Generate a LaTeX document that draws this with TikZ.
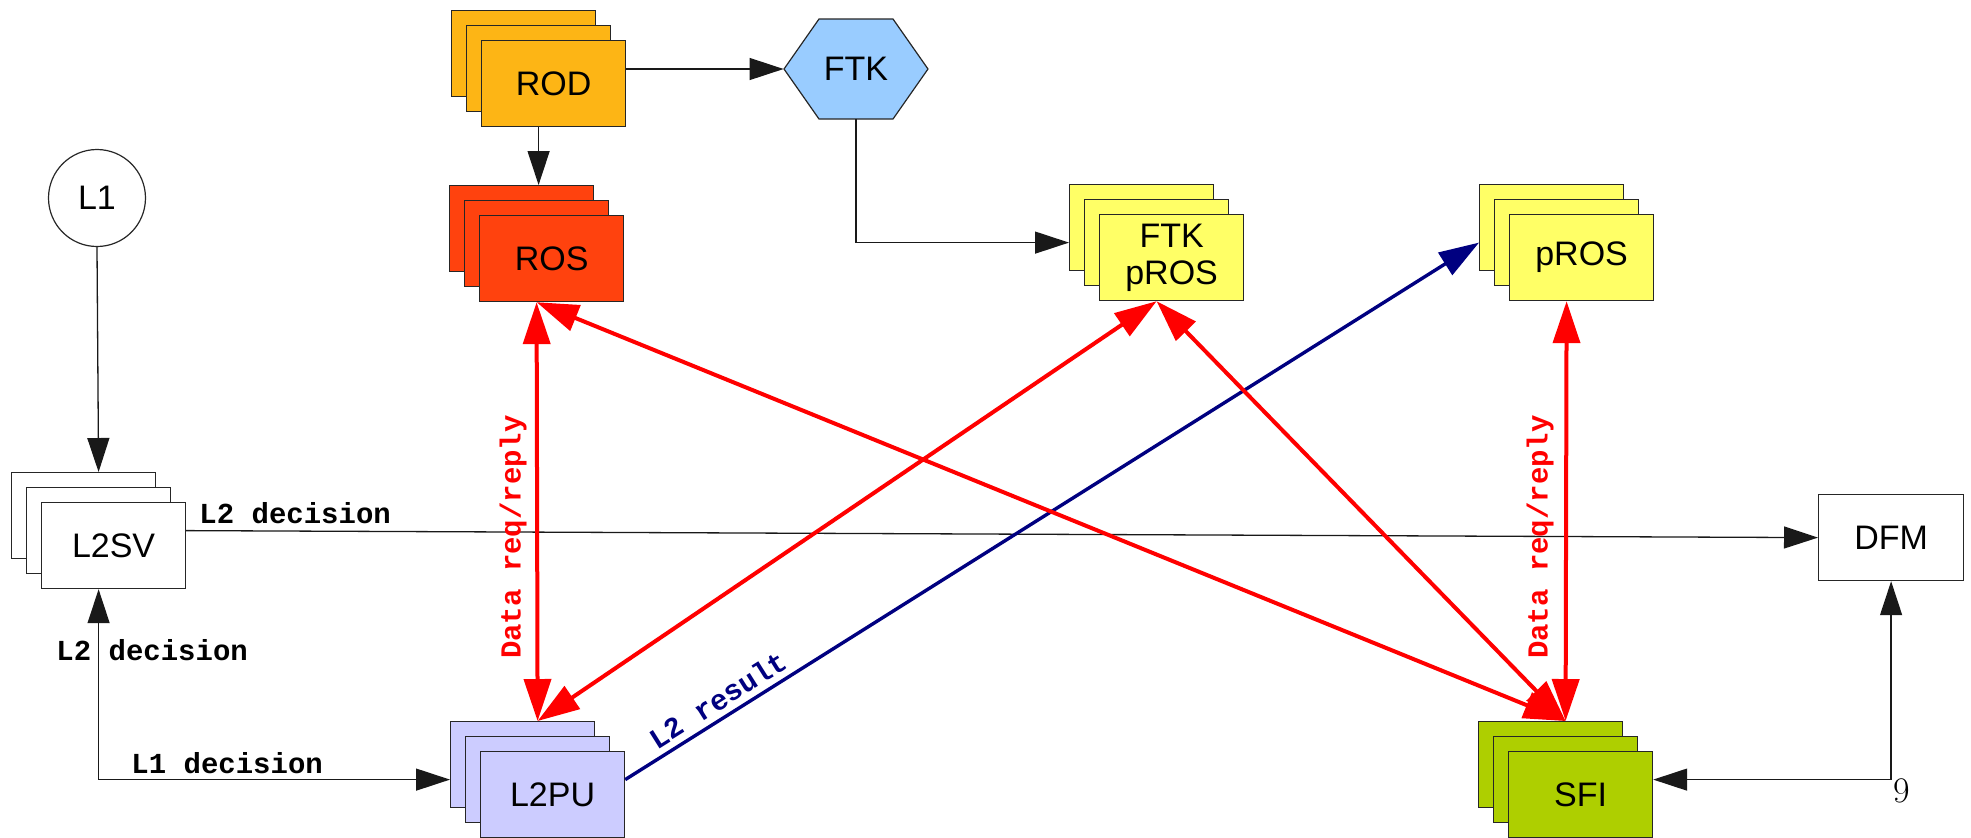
\documentclass[tikz,border=0pt]{standalone}
\usepackage{fontspec}
\setsansfont{Liberation Sans}
\setmonofont{Liberation Mono}
\usetikzlibrary{arrows.meta,calc}

\definecolor{rodfill}{HTML}{FDB515}
\definecolor{rosfill}{HTML}{FF420E}
\definecolor{ftkfill}{HTML}{99CCFF}
\definecolor{prosfill}{HTML}{FFFF66}
\definecolor{pufill}{HTML}{CCCCFF}
\definecolor{sfifill}{HTML}{AECF00}
\definecolor{resultblue}{HTML}{000080}

\tikzset{
  unitbox/.style={draw=black!85, line width=0.6pt, anchor=north west,
    minimum width=72pt, minimum height=43pt, inner sep=0pt,
    font=\sffamily\fontsize{17}{18.5}\selectfont, align=center},
  flow/.style={draw=black!90, line width=0.65pt, -{Triangle[length=17pt,width=11pt]}},
  flowboth/.style={draw=black!90, line width=0.65pt,
    {Triangle[length=17pt,width=11pt]}-{Triangle[length=17pt,width=11pt]}},
  datalink/.style={draw=red, line width=2pt,
    {Triangle[length=21pt,width=13.5pt]}-{Triangle[length=21pt,width=13.5pt]}},
  resultlink/.style={draw=resultblue, line width=1.7pt, -{Triangle[length=20pt,width=13pt]}},
  monolabel/.style={font=\ttfamily\bfseries\fontsize{14.5}{16}\selectfont, inner sep=0pt},
}

% three overlapping boxes: back (#1b), middle (#1m), front (#1)
\newcommand{\boxstack}[5]{%
  \node[unitbox, fill=#4] (#1b) at (#2,#3) {};
  \node[unitbox, fill=#4] (#1m) at (#2+15,#3+15) {};
  \node[unitbox, fill=#4] (#1) at (#2+30,#3+30) {#5};
}

\begin{document}
\begin{tikzpicture}[x=0.5pt,y=-0.5pt]
\useasboundingbox (0,0) rectangle (1971,837);

% units
\boxstack{rod}{451}{10}{rodfill}{ROD}
\boxstack{ros}{449}{185}{rosfill}{ROS}
\boxstack{ftkpros}{1069}{184}{prosfill}{FTK\\pROS}
\boxstack{pros}{1479}{184}{prosfill}{pROS}
\boxstack{l2sv}{11}{472}{white}{L2SV}
\boxstack{l2pu}{450}{721}{pufill}{L2PU}
\boxstack{sfi}{1478}{721}{sfifill}{SFI}
\node[unitbox, minimum width=72.5pt, fill=white] (dfm) at (1818,494) {DFM};

\node[draw=black!85, circle, line width=0.6pt, minimum size=48.5pt, inner sep=0pt,
  font=\sffamily\fontsize{17}{18.5}\selectfont] (l1) at (97,198) {L1};

% FTK hexagon
\coordinate (ftkc) at (856,69);
\filldraw[fill=ftkfill, draw=black!85, line width=0.6pt]
  ($(ftkc)+(-72,0)$) -- ($(ftkc)+(-37,-50)$) -- ($(ftkc)+(37,-50)$) --
  ($(ftkc)+(72,0)$) -- ($(ftkc)+(37,50)$) -- ($(ftkc)+(-37,50)$) -- cycle;
\node[minimum width=72pt, minimum height=50pt, inner sep=0pt,
  font=\sffamily\fontsize{17}{18.5}\selectfont] (ftk) at (ftkc) {FTK};

% black control and data flow
\draw[flow] (rod.east |- ftk.west) -- (ftk.west);
\draw[flow] (rodm |- rod.south) -- (rodm |- rosb.north);
\draw[flow] (ftk.south) |- (ftkprosb.west |- ftkprosm.west);
\draw[flow] (l1.south) -- (l2svm |- l2svb.north);
\draw[flow] (l2sv.east |- l2svm.east) -- (dfm.west);

\coordinate (lcorner) at (l2svm |- l2pum.west);
\draw[flowboth] (l2svm |- l2sv.south) -- (lcorner) -- (l2pub.west |- l2pum.west);
\coordinate (rcorner) at (dfm.south |- sfim.east);
\draw[flowboth] (dfm.south) -- (rcorner) -- (sfi.east |- sfim.east);

\node[monolabel, anchor=west] (l2dectop) at (199,513) {L2 decision};
\node[monolabel, anchor=west] (l2decleft) at (56,650) {L2 decision};
\node[monolabel, anchor=west] (l1dec) at (131,763) {L1 decision};

% L2 result
\draw[resultlink] (l2pu.east |- l2pum.east) --
  node[monolabel, text=resultblue, sloped, above, pos=0.12, inner sep=3pt] (result) {L2 result}
  (prosb.west |- prosm.west);

% data requests / replies
\draw[datalink] (rosm |- ros.south) -- (l2pum |- l2pub.north);
\draw[datalink] (rosm |- ros.south) -- (sfim |- sfib.north);
\draw[datalink] (ftkprosm |- ftkpros.south) -- (l2pum |- l2pub.north);
\draw[datalink] (ftkprosm |- ftkpros.south) -- (sfim |- sfib.north);
\draw[datalink] (prosm |- pros.south) -- (sfim |- sfib.north);

\node[monolabel, text=red, rotate=90] (dataleft) at (513,537) {Data req/reply};
\node[monolabel, text=red, rotate=90] (dataright) at (1540,537) {Data req/reply};

\node[font=\rmfamily\fontsize{18}{20}\selectfont, inner sep=0pt] (pagenum) at (1902,791) {9};
\end{tikzpicture}
\end{document}
